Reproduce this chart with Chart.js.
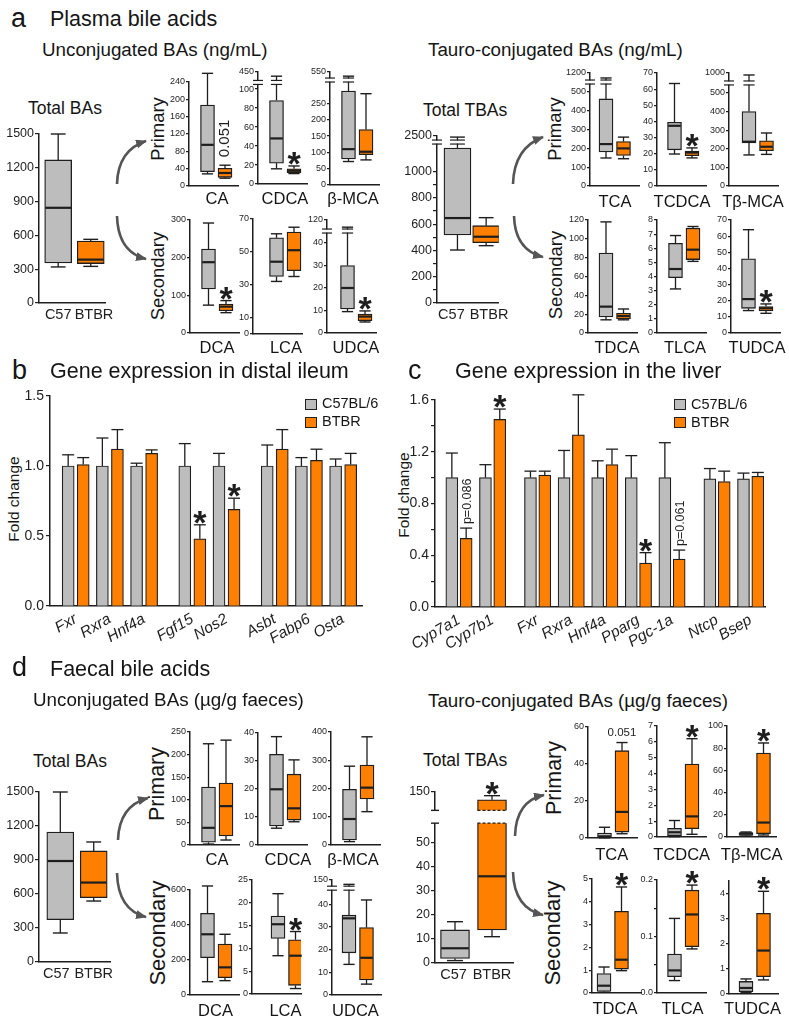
<!DOCTYPE html>
<html><head><meta charset="utf-8">
<script src="https://cdn.jsdelivr.net/npm/chart.js@4.4.1/dist/chart.umd.min.js"></script>
<style>
html,body{margin:0;padding:0;background:#fff}
#root{position:relative;width:789px;height:1021px;overflow:hidden;font-family:"Liberation Sans",Arial,Helvetica,sans-serif;color:#151515}
.t{position:absolute;white-space:nowrap;line-height:1}
canvas{position:absolute}
.lg{position:absolute;width:12px;height:11px;border:1.3px solid #222;box-sizing:border-box}
svg{position:absolute;left:0;top:0}
</style></head><body><div id="root">
<svg width="789" height="1021"><defs><marker id="ah" markerWidth="11" markerHeight="9" refX="10" refY="4.5" orient="auto" markerUnits="userSpaceOnUse"><path d="M0,0 L11,4.5 L0,9 z" fill="#555"/></marker></defs>
<g stroke="#555" stroke-width="2.6" fill="none" marker-end="url(#ah)">
<path d="M117,184 Q118,150 146,141"/><path d="M117,216 Q118,252 146,259"/>
<path d="M513,184 Q514,148 543,137"/><path d="M514,216 Q515,250 543,257"/>
<path d="M118,840 Q119,806 148,798"/><path d="M117,873 Q118,910 146,917"/>
<path d="M515,836 Q516,801 544,795"/><path d="M513,872 Q514,908 543,915"/>
</g></svg>
</div>
<script>
// ---------------- DATA ----------------
const groups = ['C57', 'BTBR'];
// box stats: [min, Q1, median, Q3, max]
const plasmaTotalBA_C57 = [320, 355, 845, 1270, 1500];
const plasmaTotalBA_BTBR = [325, 350, 385, 550, 565];
const plasmaTotalBATicks = [0, 300, 600, 900, 1200, 1500];
const plasmaTotalTBA_C57 = [403, 517, 646, 1179, 2410];
const plasmaTotalTBA_BTBR = [436, 459, 504, 588, 649];
const plasmaTotalTBATicks = [0, 100, 200, 300, 400, 500, 600, 700, 800, 900, 1000, 2500];
const plasmaTotalTBALabels = ['0', '', '200', '', '400', '', '600', '', '800', '', '1000', '2500'];

const plasmaUncNames = ['CA', 'CDCA', 'β-MCA', 'DCA', 'LCA', 'UDCA'];
const plasmaUncC57 = [[28, 33, 95, 187, 260], [16, 22, 48, 88, 390], [72, 80, 110, 288, 524], [74, 117, 188, 223, 292], [32, 35, 44, 58.5, 61], [9.5, 10.7, 20, 30, 107]];
const plasmaUncBTBR = [[18, 20, 30, 41, 48], [11, 12, 14, 16, 19], [77, 93, 102, 170, 280], [54, 59, 70, 77, 86], [35, 38.5, 51, 62, 65], [4.9, 5.5, 7.3, 8.4, 9.8]];
const plasmaUncTicks = [[0, 40, 80, 120, 160, 200, 240], [0, 20, 40, 60, 80, 100, 450], [0, 50, 100, 150, 200, 250, 550], [0, 100, 200, 300], [0, 10, 30, 50, 70], [0, 10, 20, 30, 40, 120]];
const plasmaUncSig = ['0.051', '*', '', '*', '', '*'];

const plasmaTauNames = ['TCA', 'TCDCA', 'Tβ-MCA', 'TDCA', 'TLCA', 'TUDCA'];
const plasmaTauC57 = [[149, 181, 223, 463, 1090], [19.8, 22.4, 37.3, 39.5, 63.5], [167, 231, 238, 400, 960], [14, 17, 28, 85, 118], [3.12, 3.92, 4.53, 6.35, 6.9], [13.9, 15.3, 21, 46, 64]];
const plasmaTauBTBR = [[145, 162, 200, 236, 260], [17.4, 18.8, 20.7, 21.7, 23.6], [170, 190, 211, 243, 285], [14, 15, 18, 21, 25.5], [5.07, 5.2, 5.9, 7.42, 7.54], [12.2, 13.7, 15.3, 16.4, 18]];
const plasmaTauTicks = [[0, 100, 200, 300, 400, 500, 1200], [0, 10, 20, 30, 40, 50, 60, 70], [0, 100, 200, 300, 400, 500, 1000], [0, 20, 40, 60, 80, 100, 120], [0, 1, 2, 3, 4, 5, 6, 7, 8], [0, 10, 20, 30, 40, 50, 60, 70]];
const plasmaTauSig = ['', '*', '', '', '', '*'];

const faecalTotalBA_C57 = [256, 374, 891, 1147, 1500];
const faecalTotalBA_BTBR = [538, 568, 701, 980, 1059];
const faecalTotalBATicks = [0, 300, 600, 900, 1200, 1500];
const faecalTotalTBA_C57 = [1.0, 1.9, 6.1, 13.7, 17.1];
const faecalTotalTBA_BTBR = [10.9, 13.7, 35.9, 129, 140];
const faecalTotalTBATicks = [0, 10, 20, 30, 40, 50, 150];

const faecalUncNames = ['CA', 'CDCA', 'β-MCA', 'DCA', 'LCA', 'UDCA'];
const faecalUncC57 = [[2, 6, 38, 128, 224], [6, 6.8, 19.9, 32.4, 38.7], [12, 18, 92, 197, 279], [76, 213, 347, 467, 623], [8.4, 12.2, 15.3, 17.1, 22], [13.5, 18.6, 33.8, 35.2, 134]];
const faecalUncBTBR = [[11, 20, 86, 137, 232], [8.3, 8.9, 13.1, 25.3, 30.4], [118, 163, 203, 283, 383], [82, 99, 158, 291, 347], [1.2, 1.9, 8.4, 11.9, 13.7], [4.8, 6.6, 16.4, 29.7, 41.9]];
const faecalUncTicks = [[0, 50, 100, 150, 200, 250], [0, 10, 20, 30, 40], [0, 100, 200, 300, 400], [0, 200, 400, 600], [0, 5, 10, 15, 20, 25], [0, 10, 20, 30, 40, 150]];
const faecalUncSig = ['', '', '', '', '*', ''];

const faecalTauNames = ['TCA', 'TCDCA', 'Tβ-MCA', 'TDCA', 'TLCA', 'TUDCA'];
const faecalTauC57 = [[0.1, 0.2, 0.9, 2.7, 5.8], [0.02, 0.08, 0.3, 0.55, 1.04], [0.8, 1.5, 3, 4, 4.5], [0.03, 0.07, 0.32, 0.85, 1.14], [0.022, 0.029, 0.04, 0.069, 0.132], [0.05, 0.09, 0.24, 0.5, 0.6]];
const faecalTauBTBR = [[2.3, 3.2, 14.1, 47.2, 51.6], [0.17, 0.52, 1.3, 4.6, 6.2], [1.8, 3, 13, 75.7, 84.7], [0.98, 1.05, 1.46, 3.58, 4.65], [0.078, 0.082, 0.139, 0.182, 0.191], [0.56, 0.69, 1.73, 3.21, 4.09]];
const faecalTauTicks = [[0, 20, 40, 60], [0, 1, 2, 3, 4, 5, 6, 7], [0, 20, 40, 60, 80, 100], [0, 1, 2, 3, 4, 5], [0, 0.05, 0.1, 0.15, 0.2], [0, 1, 2, 3, 4]];
const faecalTLCALabels = ['0.0', '', '0.1', '', '0.2'];
const faecalTauSig = ['0.051', '*', '*', '*', '*', '*'];

// gene expression (mean, SEM)
const ileumGenes = ['Fxr', 'Rxra', 'Hnf4a', 'Fgf15', 'Nos2', 'Asbt', 'Fabp6', 'Osta'];
const ileumClusters = [3, 2, 3];
const ileumC57 = [1, 1, 1, 1, 1, 1, 1, 1];
const ileumC57Sem = [0.08, 0.20, 0.02, 0.16, 0.09, 0.15, 0.06, 0.05];
const ileumBTBR = [1.01, 1.12, 1.09, 0.48, 0.69, 1.12, 1.04, 1.01];
const ileumBTBRSem = [0.05, 0.14, 0.025, 0.10, 0.08, 0.14, 0.08, 0.08];
const ileumSig = ['', '', '', '*', '*', '', '', ''];
const ileumTicks = [0, 0.5, 1.0, 1.5];
const ileumTickLabels = ['0.0', '0.5', '1.0', '1.5'];

const liverGenes = ['Cyp7a1', 'Cyp7b1', 'Fxr', 'Rxra', 'Hnf4a', 'Pparg', 'Pgc-1a', 'Ntcp', 'Bsep'];
const liverClusters = [2, 5, 2];
const liverC57 = [1, 1, 1, 1, 1, 1, 1, 0.99, 0.99];
const liverC57Sem = [0.19, 0.10, 0.05, 0.21, 0.13, 0.17, 0.27, 0.08, 0.045];
const liverBTBR = [0.53, 1.45, 1.02, 1.33, 1.10, 0.34, 0.37, 0.97, 1.01];
const liverBTBRSem = [0.08, 0.08, 0.03, 0.31, 0.12, 0.08, 0.07, 0.08, 0.03];
const liverSig = ['p=0.086', '*', '', '', '', '*', 'p=0.061', '', ''];
const liverTicks = [0, 0.2, 0.4, 0.6, 0.8, 1.0, 1.2, 1.4, 1.6];
const liverTickLabels = ['0.0', '', '0.4', '', '0.8', '', '1.2', '', '1.6'];

// ---------------- LAYOUT ----------------
const INK = '#1e1e1e', GRAY = '#bdbdbd', ORANGE = '#ff8000';
const FONT = '"Liberation Sans", Arial, sans-serif';
Chart.defaults.font.family = FONT;
Chart.defaults.color = INK;
const root = document.getElementById('root');

function txt(s, x, base, size, o = {}) {
  const d = document.createElement('div');
  d.className = 't'; d.textContent = s; d.style.fontSize = size + 'px';
  if (o.italic) d.style.fontStyle = 'italic';
  d.style.left = x + 'px';
  if (o.rot) { d.style.top = base + 'px'; d.style.transform = 'translate(-50%,-50%) rotate(-90deg)'; }
  else { d.style.top = (base - 0.8465 * size) + 'px'; if (o.mid) d.style.transform = 'translateX(-50%)'; }
  root.appendChild(d);
}
function cv(l, t, w, h) {
  const c = document.createElement('canvas');
  c.width = Math.round(w); c.height = Math.round(h);
  c.style.left = Math.round(l) + 'px'; c.style.top = Math.round(t) + 'px';
  c.style.width = Math.round(w) + 'px'; c.style.height = Math.round(h) + 'px';
  root.appendChild(c); return c;
}
function mkF(k) {
  if (!k) return v => v;
  return v => {
    for (let i = 1; i < k.length; i++) {
      const [r0, d0] = k[i - 1], [r1, d1] = k[i];
      if (v <= r1) return r1 === r0 ? d1 : d0 + (v - r0) * (d1 - d0) / (r1 - r0);
    }
    const [r0, d0] = k[k.length - 2], [r1, d1] = k[k.length - 1];
    return d0 + (v - r0) * (d1 - d0) / (r1 - r0);
  };
}
function lineFn(ctx) {
  return (x1, y1, x2, y2, w) => { ctx.lineWidth = w; ctx.beginPath(); ctx.moveTo(x1, y1); ctx.lineTo(x2, y2); ctx.stroke(); };
}
function drawStar(ctx, x, top) {
  ctx.fillStyle = INK; ctx.font = 'bold 34px ' + FONT; ctx.textAlign = 'center'; ctx.textBaseline = 'alphabetic';
  ctx.fillText('*', x, top + 9);
}
function boxPlugin(o) {
  return {
    id: 'bx',
    afterDatasetsDraw(chart) {
      const ctx = chart.ctx, ys = chart.scales.y, ca = chart.chartArea, f = o.f;
      const P = v => ys.getPixelForValue(f(v));
      const bars = chart.getDatasetMeta(0).data;
      const ln = lineFn(ctx);
      ctx.save(); ctx.strokeStyle = INK;
      bars.forEach((b, i) => {
        const s = o.stats[i], cx = b.x, hw = b.width / 2, cw = hw * o.cap;
        ln(cx, P(s[3]), cx, P(s[4]), 1.3); ln(cx - cw, P(s[4]), cx + cw, P(s[4]), 1.4);
        ln(cx, P(s[1]), cx, P(s[0]), 1.3); ln(cx - cw, P(s[0]), cx + cw, P(s[0]), 1.4);
        ln(cx - hw + 0.7, P(s[2]), cx + hw - 0.7, P(s[2]), 2.2);
      });
      if (o.mark != null) {
        const yb = ys.getPixelForValue(o.mark);
        const brk = (x1, x2) => { ctx.fillStyle = '#fff'; ctx.fillRect(x1, yb - 1.6, x2 - x1, 3.2); ln(x1, yb - 2, x2, yb - 2, 1.2); ln(x1, yb + 2, x2, yb + 2, 1.2); };
        brk(ca.left - 5, ca.left + 5);
        bars.forEach((b, i) => {
          const s = o.stats[i];
          if (P(s[4]) < yb - 2 && P(s[3]) > yb + 2) { const cw = b.width / 2 * o.cap; brk(b.x - cw, b.x + cw); }
        });
      }
      if (o.gap) {
        const y1 = ys.getPixelForValue(o.gap[0]), y2 = ys.getPixelForValue(o.gap[1]);
        ctx.fillStyle = '#fff'; ctx.fillRect(ca.left - 8, y2, ca.right - ca.left + 8, y1 - y2);
        ln(ca.left - 4, y1, ca.left + 4, y1, 1.4); ln(ca.left - 4, y2, ca.left + 4, y2, 1.4);
        ctx.setLineDash([3, 2]);
        bars.forEach((b, i) => {
          const s = o.stats[i];
          if (P(s[1]) > y1 && P(s[3]) < y2) {
            ln(b.x - b.width / 2, y1, b.x + b.width / 2, y1, 1.3);
            ln(b.x - b.width / 2, y2, b.x + b.width / 2, y2, 1.3);
          }
        });
        ctx.setLineDash([]);
      }
      (o.sig || []).forEach((m, i) => {
        if (!m) return;
        const b = bars[i], top = P(o.stats[i][4]);
        if (m === '*') drawStar(ctx, b.x, top);
        else if (o.rotSig) {
          ctx.save(); ctx.translate(b.x, top - 8); ctx.rotate(-Math.PI / 2);
          ctx.fillStyle = INK; ctx.font = '15px ' + FONT; ctx.textAlign = 'left'; ctx.textBaseline = 'middle';
          ctx.fillText(m, 0, 0); ctx.restore();
        } else {
          ctx.fillStyle = INK; ctx.font = '11.5px ' + FONT; ctx.textAlign = 'center'; ctx.textBaseline = 'alphabetic';
          ctx.fillText(m, b.x, top - 7);
        }
      });
      ctx.restore();
    }
  };
}
function boxChart(L, c57, btbr, ticks, labels, sig) {
  const total = !!L.total;
  const yw = total ? 39 : 30, w = L.w || 49, unit = L.unit || 17.5, gx = L.gx ?? 18.5;
  const padT = 16, padB = 8, padR = 4, xh = total ? 28 : 2;
  const f = mkF(L.knots);
  const ymax = L.ymax ?? f(ticks[ticks.length - 1]);
  const stats = [c57, btbr];
  const lx = L.lx || [0, 1];
  const c = cv(L.x - yw, L.pt - padT, yw + w + padR, padT + (L.p0 - L.pt) + xh + padB);
  new Chart(c, {
    type: 'bar',
    data: { datasets: [{
      data: stats.map((s, i) => ({ x: i, y: [f(s[1]), f(s[3])] })),
      backgroundColor: [GRAY, ORANGE], borderColor: INK, borderWidth: 1.3, borderSkipped: false,
      barThickness: L.bw || 14
    }] },
    options: {
      responsive: false, animation: false, events: [], devicePixelRatio: 1,
      layout: { padding: { top: padT, bottom: padB, left: 0, right: padR } },
      plugins: { legend: { display: false }, tooltip: { enabled: false } },
      scales: {
        x: {
          type: 'linear', offset: false, min: -gx / unit, max: (w - gx) / unit,
          grid: { display: false, drawTicks: false }, border: { display: true, color: INK, width: 1.5 },
          afterBuildTicks: s => { s.ticks = lx.map(v => ({ value: v })); },
          ticks: { display: total, autoSkip: false, maxRotation: 0, minRotation: 0, padding: 3, font: { size: 14.5 }, color: INK, callback: (v, i) => groups[i] },
          afterFit: s => { s.height = xh; }
        },
        y: {
          type: 'linear', min: 0, max: ymax,
          afterBuildTicks: s => { s.ticks = ticks.map(v => ({ value: f(v) })); },
          ticks: { autoSkip: false, padding: 1, font: { size: total ? 12.5 : 9 }, color: INK, callback: (v, i) => labels ? labels[i] : String(ticks[i]) },
          grid: { display: true, drawOnChartArea: false, drawTicks: true, tickLength: total ? 4 : 3, color: INK, lineWidth: 1.2 },
          border: { display: true, color: INK, width: 1.5 },
          afterFit: s => { s.width = yw; }
        }
      }
    },
    plugins: [boxPlugin({ f, stats, cap: total ? 0.55 : 0.8, mark: L.mark, gap: L.gap, sig, rotSig: L.rotSig })]
  });
}
function positions(clusters, gap) {
  const p = []; let x = 0;
  clusters.forEach(n => { for (let j = 0; j < n; j++) { p.push(x); x += 1; } x += gap; });
  return p;
}
function errPlugin(o) {
  return {
    id: 'err',
    afterDatasetsDraw(chart) {
      const ctx = chart.ctx, ys = chart.scales.y, ln = lineFn(ctx);
      ctx.save(); ctx.strokeStyle = INK;
      [0, 1].forEach(di => {
        const bars = chart.getDatasetMeta(di).data, m = o.means[di], e = o.errs[di];
        bars.forEach((b, i) => {
          const yt = ys.getPixelForValue(m[i] + e[i]), hw = b.width / 2;
          ln(b.x, b.y, b.x, yt, 1.3); ln(b.x - hw, yt, b.x + hw, yt, 1.3);
          const s = di === 1 ? o.sig[i] : '';
          if (s === '*') drawStar(ctx, b.x, yt);
          else if (s) {
            ctx.save(); ctx.translate(b.x + 1, yt - 4); ctx.rotate(-Math.PI / 2);
            ctx.fillStyle = INK; ctx.font = '12.5px ' + FONT; ctx.textAlign = 'left'; ctx.textBaseline = 'middle';
            ctx.fillText(s, 0, 0); ctx.restore();
          }
        });
      });
      ctx.restore();
    }
  };
}
function barChart(L, genes, clusters, c57, c57e, bt, bte, sig, ticks, labels) {
  const pos = positions(clusters, L.gap);
  const padT = 16, padB = 4;
  const c = cv(L.x - L.yw, L.pt - padT, L.yw + L.w + 8, padT + (L.p0 - L.pt) + L.xh + padB);
  const ds = (vals, col, sgn) => ({
    data: genes.map((g, i) => ({ x: pos[i] + sgn * L.off, y: vals[i] })),
    backgroundColor: col, borderColor: INK, borderWidth: 1.2, borderSkipped: 'start', barThickness: 12, grouped: false
  });
  new Chart(c, {
    type: 'bar',
    data: { datasets: [ds(c57, GRAY, -1), ds(bt, ORANGE, 1)] },
    options: {
      responsive: false, animation: false, events: [], devicePixelRatio: 1,
      layout: { padding: { top: padT, bottom: padB, left: 0, right: 8 } },
      plugins: { legend: { display: false }, tooltip: { enabled: false } },
      scales: {
        x: {
          type: 'linear', offset: false, min: -L.g0 / L.unit, max: (L.w - L.g0) / L.unit,
          grid: { display: false, drawTicks: false }, border: { display: true, color: INK, width: 1.5 },
          afterBuildTicks: s => { s.ticks = pos.map(v => ({ value: v })); },
          ticks: { autoSkip: false, minRotation: 30, maxRotation: 30, padding: 4, font: { size: 15.5, style: 'italic' }, color: INK, callback: (v, i) => genes[i] },
          afterFit: s => { s.height = L.xh; }
        },
        y: {
          type: 'linear', min: 0, max: L.ymax,
          afterBuildTicks: s => { s.ticks = ticks.map(v => ({ value: v })); },
          ticks: { autoSkip: false, padding: 2, font: { size: 14 }, color: INK, callback: (v, i) => labels[i] },
          grid: { display: true, drawOnChartArea: false, drawTicks: true, tickLength: 4, color: INK, lineWidth: 1.2 },
          border: { display: true, color: INK, width: 1.5 },
          afterFit: s => { s.width = L.yw; }
        }
      }
    },
    plugins: [errPlugin({ means: [c57, bt], errs: [c57e, bte], sig })]
  });
}

// geometry of each small panel (pixel positions of axes)
const LP_unc = [
  { x: 189, p0: 186, pt: 82, rotSig: true },
  { x: 258, p0: 184, pt: 72, knots: [[0, 0], [107, 107], [300, 107], [450, 118]], mark: 107 },
  { x: 330, p0: 185, pt: 72, knots: [[0, 0], [322, 322], [500, 322], [550, 346.6]], mark: 322 },
  { x: 190, p0: 333, pt: 220 },
  { x: 253, p0: 334, pt: 219, gx: 23.5 },
  { x: 327, p0: 333, pt: 220, gx: 20.5, knots: [[0, 0], [45.3, 45.3], [100, 45.3], [120, 50.2]], mark: 45.3 }];
const LP_tau = [
  { x: 590, p0: 186, pt: 73, gx: 16, knots: [[0, 0], [553, 553], [1000, 553], [1200, 601]], mark: 553 },
  { x: 657, p0: 186, pt: 73, gx: 17.5 },
  { x: 729, p0: 186, pt: 73, gx: 20, knots: [[0, 0], [554, 554], [800, 554], [1000, 607.5]], mark: 554 },
  { x: 588, p0: 333, pt: 220, gx: 18 },
  { x: 657, p0: 333, pt: 220 },
  { x: 731, p0: 333, pt: 220, gx: 17.5 }];
const LF_unc = [
  { x: 190, p0: 845, pt: 731.7 },
  { x: 258, p0: 845, pt: 733 },
  { x: 331, p0: 845, pt: 731.7 },
  { x: 190, p0: 995, pt: 890, gx: 17.5 },
  { x: 252, p0: 994.3, pt: 880, gx: 26 },
  { x: 332, p0: 995, pt: 880, gx: 17, knots: [[0, 0], [47.1, 47.1], [120, 47.1], [150, 50.7]], mark: 47.1 }];
const LF_tau = [
  { x: 588, p0: 838.3, pt: 727.3, gx: 16.5 },
  { x: 657, p0: 836.7, pt: 726, gx: 17.5 },
  { x: 727, p0: 836.7, pt: 725.7, gx: 19 },
  { x: 592, p0: 993.3, pt: 879.3, gx: 12 },
  { x: 657, p0: 993.3, pt: 880, gx: 17.5 },
  { x: 729, p0: 993.3, pt: 880.7, gx: 17, ymax: 4.5 }];

// ---------------- BUILD ----------------
// Panel a
txt('a', 11, 27.5, 27); txt('Plasma bile acids', 50, 27.5, 21.5);
txt('Unconjugated BAs (ng/mL)', 42, 57.3, 18.8);
txt('Tauro-conjugated BAs (ng/mL)', 428, 57.3, 18.8);
txt('Total BAs', 28, 114.5, 17.5); txt('Total TBAs', 423, 116.5, 17.5);
txt('Primary', 158, 129, 18.5, { rot: true }); txt('Secondary', 158, 276, 18.5, { rot: true });
txt('Primary', 555, 129, 18.5, { rot: true }); txt('Secondary', 556, 275, 18.5, { rot: true });
boxChart({ x: 39, p0: 303, pt: 134, w: 74, gx: 21.5, unit: 36.5, bw: 27, total: true, lx: [0, 1.1] }, plasmaTotalBA_C57, plasmaTotalBA_BTBR, plasmaTotalBATicks, null, []);
boxChart({ x: 437, p0: 303, pt: 136, w: 71, gx: 23.5, unit: 33, bw: 27, total: true, lx: [-0.21, 1.1], knots: [[0, 0], [1224, 1224], [2000, 1224], [2500, 1270]], mark: 1224 }, plasmaTotalTBA_C57, plasmaTotalTBA_BTBR, plasmaTotalTBATicks, plasmaTotalTBALabels, []);
const catA = [[217, 204], [285, 204], [353, 204], [217, 353.3], [286, 353.3], [356, 353.3]];
const catAT = [[615, 206.5], [682, 206.5], [753, 206.5], [617, 353.3], [685, 353.3], [757, 353.3]];
plasmaUncNames.forEach((n, i) => {
  boxChart(LP_unc[i], plasmaUncC57[i], plasmaUncBTBR[i], plasmaUncTicks[i], null, ['', plasmaUncSig[i]]);
  txt(n, catA[i][0], catA[i][1], 16.5, { mid: true });
});
plasmaTauNames.forEach((n, i) => {
  boxChart(LP_tau[i], plasmaTauC57[i], plasmaTauBTBR[i], plasmaTauTicks[i], null, ['', plasmaTauSig[i]]);
  txt(n, catAT[i][0], catAT[i][1], 16.5, { mid: true });
});

// Panel b & c
txt('b', 12, 379.5, 27); txt('Gene expression in distal ileum', 50, 379.5, 21.5);
txt('c', 408, 379.5, 27); txt('Gene expression in the liver', 455, 379.5, 21.5);
txt('Fold change', 13.5, 499, 15.5, { rot: true });
txt('Fold change', 404, 495, 15.5, { rot: true });
barChart({ x: 50, yw: 50, pt: 396, p0: 606, w: 312, xh: 42, unit: 34.2, g0: 25.7, ymax: 1.5, off: 0.22, gap: 0.41 },
  ileumGenes, ileumClusters, ileumC57, ileumC57Sem, ileumBTBR, ileumBTBRSem, ileumSig, ileumTicks, ileumTickLabels);
barChart({ x: 435, yw: 45, pt: 400, p0: 606.7, w: 330, xh: 42, unit: 33.6, g0: 24, ymax: 1.6, off: 0.213, gap: 0.34 },
  liverGenes, liverClusters, liverC57, liverC57Sem, liverBTBR, liverBTBRSem, liverSig, liverTicks, liverTickLabels);
function legend(x, y1, y2) {
  [[y1, GRAY, 'C57BL/6'], [y2, ORANGE, 'BTBR']].forEach(([y, col, lab]) => {
    const d = document.createElement('div'); d.className = 'lg';
    d.style.left = x + 'px'; d.style.top = (y - 10) + 'px'; d.style.background = col; root.appendChild(d);
    txt(lab, x + 17, y, 14.5);
  });
}
legend(305, 408.5, 426.5);
legend(674, 409, 427);

// Panel d
txt('d', 12, 676.7, 27); txt('Faecal bile acids', 50, 676.7, 21.5);
txt('Unconjugated BAs (µg/g faeces)', 33, 706.7, 18.8);
txt('Tauro-conjugated BAs (µg/g faeces)', 428, 708.3, 18.8);
txt('Total BAs', 33, 767.7, 17.5); txt('Total TBAs', 423, 766.7, 17.5);
txt('Primary', 158, 784, 21.5, { rot: true }); txt('Secondary', 158, 933, 22, { rot: true });
txt('Primary', 555, 778, 21.5, { rot: true }); txt('Secondary', 553, 932.5, 22, { rot: true });
boxChart({ x: 39, p0: 961.7, pt: 791.7, w: 74, gx: 22, unit: 34.5, bw: 27, total: true, lx: [-0.12, 1.0] }, faecalTotalBA_C57, faecalTotalBA_BTBR, faecalTotalBATicks, null, []);
boxChart({ x: 435, p0: 962.3, pt: 791.7, w: 78, gx: 20, unit: 37, bw: 29, total: true, lx: [-0.04, 1.0], knots: [[0, 0], [57.9, 57.9], [100, 63.2], [150, 70.8]], gap: [57.9, 63.2] }, faecalTotalTBA_C57, faecalTotalTBA_BTBR, faecalTotalTBATicks, null, ['', '*']);
const catD = [[217, 865], [288, 865], [353, 865], [215.5, 1016], [285.5, 1016], [355.5, 1016]];
const catDT = [[611.7, 860], [681.7, 860], [751.7, 860], [615, 1014], [682.5, 1014], [752.5, 1014]];
faecalUncNames.forEach((n, i) => {
  boxChart(LF_unc[i], faecalUncC57[i], faecalUncBTBR[i], faecalUncTicks[i], null, ['', faecalUncSig[i]]);
  txt(n, catD[i][0], catD[i][1], 16.5, { mid: true });
});
faecalTauNames.forEach((n, i) => {
  boxChart(LF_tau[i], faecalTauC57[i], faecalTauBTBR[i], faecalTauTicks[i], i === 4 ? faecalTLCALabels : null, ['', faecalTauSig[i]]);
  txt(n, catDT[i][0], catDT[i][1], 16.5, { mid: true });
});
</script></body></html>
